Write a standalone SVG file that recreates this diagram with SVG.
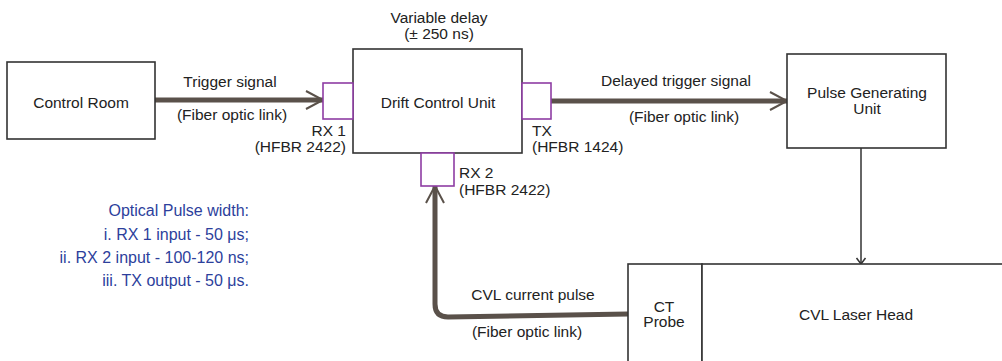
<svg xmlns="http://www.w3.org/2000/svg" width="1002" height="361" viewBox="0 0 1002 361">
  <style>
    text { font-family: "Liberation Sans", Arial, sans-serif; font-size: 15.5px; fill: #222; }
    .box { fill: #fff; stroke: #333; stroke-width: 1.6; }
    .port { fill: #fff; stroke: #8e3ca3; stroke-width: 1.6; }
    .fiber { fill: none; stroke: #5a514a; stroke-width: 5; stroke-linejoin: round; }
    .thin { fill: none; stroke: #333; stroke-width: 1.5; }
    .note { fill: #2d3f9c; font-size: 16px; }
    .mid { text-anchor: middle; }
    .end { text-anchor: end; }
  </style>
  <defs>
    <marker id="chev" markerUnits="userSpaceOnUse" markerWidth="24" markerHeight="24" viewBox="-20 -12 24 24" refX="0" refY="0" orient="auto">
      <path d="M-17,-9 L0,0 L-17,9" fill="none" stroke="#5a514a" stroke-width="2"/>
    </marker>
    <marker id="small" markerUnits="userSpaceOnUse" markerWidth="12" markerHeight="12" viewBox="-8 -6 10 12" refX="0" refY="0" orient="auto">
      <path d="M-6,-4.5 L0,0 L-6,4.5" fill="none" stroke="#333" stroke-width="1.5"/>
    </marker>
  </defs>

  <g id="connectors">
    <path class="fiber" d="M155,100 L323,100" marker-end="url(#chev)"/>
    <path class="fiber" d="M551,101 L787,101" marker-end="url(#chev)"/>
    <path class="thin" d="M861,148 L861,264" marker-end="url(#small)"/>
    <path class="fiber" d="M628,314 L448,317 Q435,317 435,304 L435,186" marker-end="url(#chev)"/>
  </g>

  <g id="control-room">
    <rect class="box" x="7" y="62" width="148" height="77"/>
    <text class="mid" x="81" y="108">Control Room</text>
  </g>

  <g id="trigger-labels">
    <text class="mid" x="230" y="87">Trigger signal</text>
    <text class="mid" x="232" y="120">(Fiber optic link)</text>
  </g>

  <g id="drift-control-unit">
    <rect class="box" x="353" y="49" width="169" height="104"/>
    <text class="mid" x="438" y="108">Drift Control Unit</text>
    <text class="mid" x="439" y="23">Variable delay</text>
    <text class="mid" x="439" y="39">(± 250 ns)</text>
  </g>

  <g id="rx1">
    <rect class="port" x="323" y="83" width="30" height="36"/>
    <text class="end" x="346" y="136">RX 1</text>
    <text class="end" x="346" y="152">(HFBR 2422)</text>
  </g>

  <g id="tx">
    <rect class="port" x="522" y="83" width="29" height="36"/>
    <text x="532" y="136">TX</text>
    <text x="532" y="152">(HFBR 1424)</text>
  </g>

  <g id="rx2">
    <rect class="port" x="421" y="153" width="33" height="33"/>
    <text x="459" y="178">RX 2</text>
    <text x="459" y="195">(HFBR 2422)</text>
  </g>

  <g id="delayed-labels">
    <text class="mid" x="676" y="86">Delayed trigger signal</text>
    <text class="mid" x="684" y="122">(Fiber optic link)</text>
  </g>

  <g id="pulse-generating-unit">
    <rect class="box" x="787" y="54" width="159" height="94"/>
    <text class="mid" x="867" y="98">Pulse Generating</text>
    <text class="mid" x="867" y="114">Unit</text>
  </g>

  <g id="ct-probe">
    <rect class="box" x="628" y="264" width="74" height="110"/>
    <text class="mid" x="664" y="312">CT</text>
    <text class="mid" x="664" y="327">Probe</text>
  </g>

  <g id="cvl-laser-head">
    <rect class="box" x="702" y="264" width="310" height="110"/>
    <text class="mid" x="856" y="320">CVL Laser Head</text>
  </g>

  <g id="pulse-labels">
    <text class="mid" x="533" y="300">CVL current pulse</text>
    <text class="mid" x="527" y="337">(Fiber optic link)</text>
  </g>

  <g id="pulse-width-note">
    <text class="note end" x="249" y="216">Optical Pulse width:</text>
    <text class="note end" x="249" y="240">i. RX 1 input - 50 μs;</text>
    <text class="note end" x="249" y="263">ii. RX 2 input - 100-120 ns;</text>
    <text class="note end" x="249" y="286">iii. TX output - 50 μs.</text>
  </g>
</svg>
